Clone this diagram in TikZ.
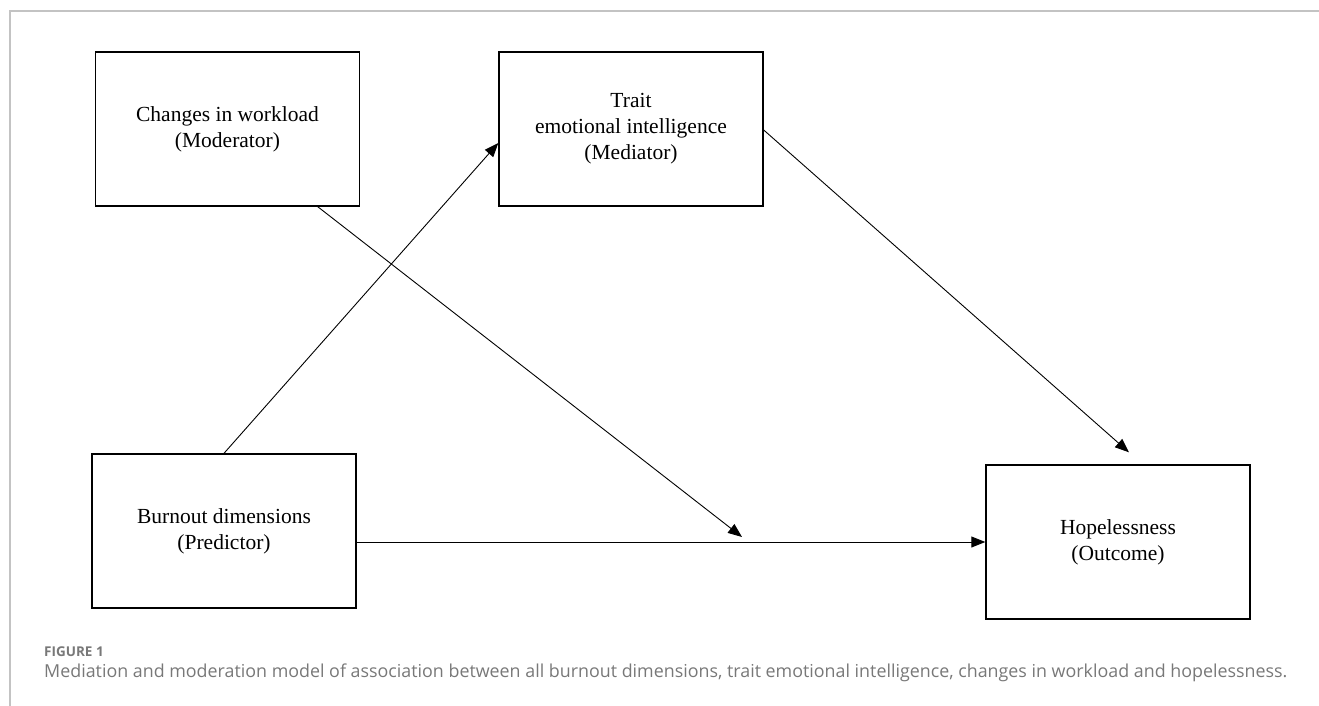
\documentclass[tikz,border=0pt]{standalone}
\usepackage{fontspec}
\setmainfont{Liberation Serif}
\newfontfamily\capfont{Open Sans}
\usetikzlibrary{arrows.meta, calc}
\definecolor{capgray}{RGB}{120,120,120}
\definecolor{framegray}{RGB}{195,195,195}

\tikzset{
  varbox/.style={draw, line width=1.4pt, minimum width=264pt, minimum height=154pt,
    align=center, inner sep=0pt, font=\fontsize{21.5}{26}\selectfont},
  path/.style={-{Triangle[length=14pt,width=11pt]}, line width=0.9pt},
  captext/.style={anchor=base west, inner sep=0pt, text=capgray}
}

\begin{document}
\begin{tikzpicture}[x=1pt,y=-1pt]
\useasboundingbox (0,0) rectangle (1319,706);
\draw[framegray, line width=1.5pt] (1319,11) -- (10,11) -- (10,706);

\node[varbox] (mod) at (227.5,129) {Changes in workload\\(Moderator)};
\node[varbox] (med) at (631,129) {Trait\\emotional intelligence\\(Mediator)};
\node[varbox] (pred) at (224,531) {Burnout dimensions\\(Predictor)};
\node[varbox] (out) at (1118,542) {Hopelessness\\(Outcome)};

\coordinate (modtip) at (742,537);
\coordinate (outtip) at ($(out.north)+(11,-12)$);

\draw[path] (pred.north) -- ($(med.west)+(0,14)$);
\draw[path] ($(mod.south west)!0.84!(mod.south east)$) -- (modtip);
\draw[path] ($(med.east)+(0,1)$) -- (outtip);
\draw[path] (pred.east |- out.west) -- (out.west);

\node[captext, font=\capfont\bfseries\fontsize{13.5}{16}\selectfont] (figlabel) at (44,656) {FIGURE 1};
\node[captext, font=\capfont\fontsize{17.85}{20}\selectfont] (figcap) at (44,677) {Mediation and moderation model of association between all burnout dimensions, trait emotional intelligence, changes in workload and hopelessness.};
\end{tikzpicture}
\end{document}
